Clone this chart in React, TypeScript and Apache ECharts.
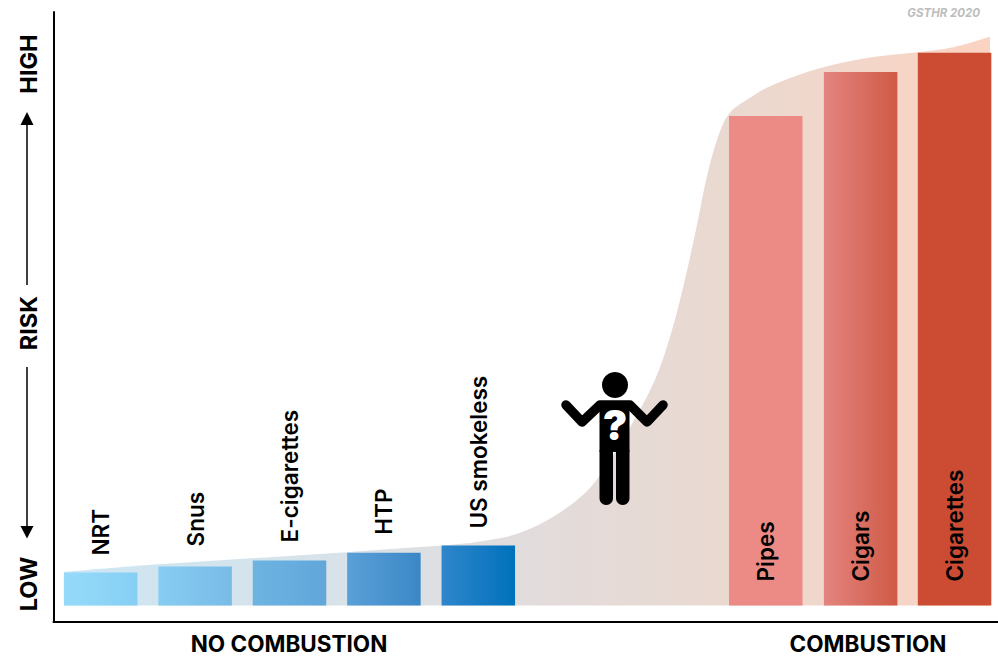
import React, { useEffect, useRef } from "react";
import * as echarts from "echarts";

const categories = ["NRT", "Snus", "E-cigarettes", "HTP", "US smokeless", "Pipes", "Cigars", "Cigarettes"];
const barPositions = [0, 1, 2, 3, 4, 7.045, 8.05, 9.045];
const riskValues = [6, 7.1, 8.2, 9.6, 10.9, 89, 97, 100.5];
const barColorsStart = ["#95daf9", "#86cdf2", "#6db4e2", "#5aa0d8", "#2f86ca", "#ec8b85", "#e48480", "#cb4c33"];
const barColorsEnd = ["#86cff4", "#79bbe7", "#62a6da", "#3b87c6", "#0071bc", "#ec8b85", "#cf5a45", "#cb4c33"];
const labelGaps = [17, 20, 18, 18, 17, 24, 24, 24];
const curveX = [-0.39, 0.61, 1.6, 2.61, 3.54, 3.88, 4.02, 4.37, 4.73, 5.08, 5.29, 5.61, 5.87, 6.03, 6.17, 6.32, 6.42, 6.54, 6.66, 6.88, 7.05, 7.4, 7.76, 8.18, 8.65, 9.03, 9.42];
const curveY = [6.1, 7.5, 8.6, 9.7, 10.8, 11.3, 11.65, 12.8, 15.5, 19.7, 23.7, 32.5, 41, 48.8, 57.9, 69.5, 77.9, 85.2, 89.5, 92.3, 94.1, 96.5, 98.3, 99.7, 100.6, 101.5, 103.4];
const yLabels = [
  { text: "LOW", y: 584 },
  { text: "RISK", y: 323 },
  { text: "HIGH", y: 64 },
];
const xLabels = [
  { text: "NO COMBUSTION", x: 289 },
  { text: "COMBUSTION", x: 868 },
];

const FONT = "Inter, 'Noto Sans', sans-serif";
const PERSON_Z = 100;

function gradient(a: string, b: string) {
  return new echarts.graphic.LinearGradient(0, 0, 1, 0, [
    { offset: 0, color: a },
    { offset: 1, color: b },
  ]);
}

export default function App() {
  const ref = useRef<HTMLDivElement>(null);
  useEffect(() => {
    if (!ref.current) return;
    const chart = echarts.init(ref.current, undefined, { renderer: "svg" });
    const low = 5;
    chart.setOption({
      animation: false,
      backgroundColor: "#fff",
      grid: { left: 53.5, top: 12, width: 944.5, height: 610 },
      xAxis: {
        type: "value",
        min: -0.5,
        max: 9.505,
        axisLine: { show: true, onZero: false, lineStyle: { color: "#000", width: 2 } },
        axisTick: { show: false },
        axisLabel: { show: false },
        splitLine: { show: false },
      },
      yAxis: {
        type: "value",
        min: -3,
        max: 107.9,
        axisLine: { show: true, onZero: false, lineStyle: { color: "#000", width: 2 } },
        axisTick: { show: false },
        axisLabel: { show: false },
        splitLine: { show: false },
      },
      series: [
        {
          type: "line",
          data: curveX.map((x, i) => [x, curveY[i]]),
          smooth: 0.35,
          showSymbol: false,
          silent: true,
          z: 1,
          lineStyle: { width: 0 },
          areaStyle: {
            opacity: 1,
            color: new echarts.graphic.LinearGradient(0, 0, 1, 0, [
              { offset: 0, color: "#cde6f4" },
              { offset: 0.3, color: "#d8e2e8" },
              { offset: 0.5, color: "#e2dcdc" },
              { offset: 0.7, color: "#e9d9d1" },
              { offset: 0.85, color: "#f2d6ca" },
              { offset: 1, color: "#fbd3c1" },
            ]),
          },
        },
        {
          type: "bar",
          barWidth: 73.5,
          z: 2,
          data: riskValues.map((v, i) => ({
            value: [barPositions[i], v],
            itemStyle: { color: gradient(barColorsStart[i], barColorsEnd[i]) },
            label: {
              show: true,
              formatter: categories[i],
              position: i < low ? "top" : "insideBottom",
              distance: labelGaps[i],
              rotate: 90,
              align: "left",
              verticalAlign: "middle",
              color: "#000",
              fontFamily: FONT,
              fontWeight: 600,
              fontSize: 22.5,
            },
          })),
        },
      ],
      graphic: [
        ...yLabels.map((l) => ({
          type: "text",
          x: 28,
          y: l.y,
          rotation: Math.PI / 2,
          style: { text: l.text, fill: "#000", font: `700 23.5px ${FONT}`, align: "center", verticalAlign: "middle" },
        })),
        ...xLabels.map((l) => ({
          type: "text",
          x: l.x,
          y: 643.5,
          style: { text: l.text, fill: "#000", font: `700 22.5px ${FONT}`, align: "center", verticalAlign: "middle" },
        })),
        {
          type: "text",
          x: 980,
          y: 13,
          style: { text: "GSTHR 2020", fill: "#bdbdbd", font: `italic 700 11.5px ${FONT}`, align: "right", verticalAlign: "middle" },
        },
        { type: "line", shape: { x1: 27, y1: 122, x2: 27, y2: 285 }, style: { stroke: "#000", lineWidth: 1.5 } },
        { type: "line", shape: { x1: 27, y1: 367, x2: 27, y2: 527 }, style: { stroke: "#000", lineWidth: 1.5 } },
        { type: "polygon", shape: { points: [[27, 112], [20.5, 125], [33.5, 125]] }, style: { fill: "#000" } },
        { type: "polygon", shape: { points: [[27, 538.5], [20.5, 526], [33.5, 526]] }, style: { fill: "#000" } },
        { type: "circle", z: PERSON_Z, shape: { cx: 615, cy: 385, r: 13 }, style: { fill: "#000" } },
        {
          type: "polyline",
          z: PERSON_Z,
          shape: { points: [[566, 405], [582, 422], [600, 405], [630, 405], [647, 422], [663, 405]] },
          style: { stroke: "#000", fill: "none", lineWidth: 9.5, lineCap: "round", lineJoin: "round" },
        },
        { type: "rect", z: PERSON_Z, shape: { x: 599.5, y: 401, width: 30, height: 51 }, style: { fill: "#000" } },
        { type: "rect", z: PERSON_Z, shape: { x: 599.5, y: 445, width: 13.5, height: 60, r: 6.5 }, style: { fill: "#000" } },
        { type: "rect", z: PERSON_Z, shape: { x: 616, y: 445, width: 13.5, height: 60, r: 6.5 }, style: { fill: "#000" } },
        {
          type: "text",
          z: PERSON_Z + 1,
          x: 615,
          y: 425,
          style: { text: "?", fill: "#fff", font: `900 41px ${FONT}`, align: "center", verticalAlign: "middle" },
        },
      ],
    });
    return () => chart.dispose();
  }, []);
  return <div ref={ref} style={{ position: "absolute", left: 0, top: 0, width: 998, height: 657 }} />;
}
